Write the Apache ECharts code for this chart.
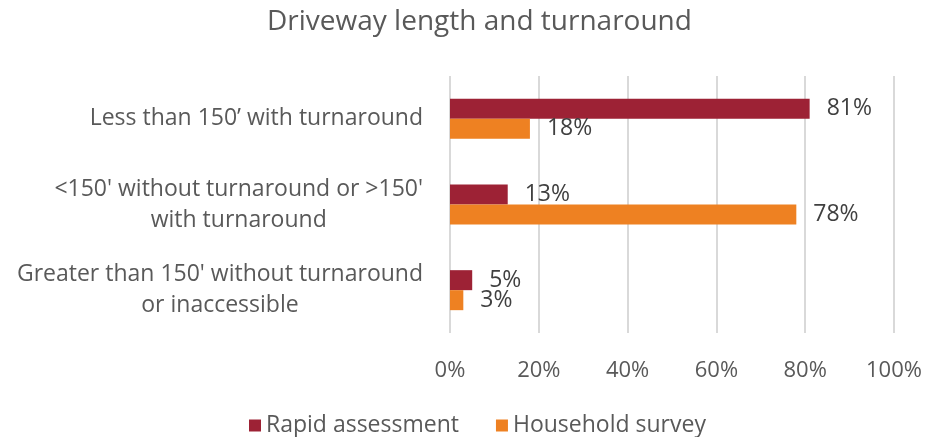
<!DOCTYPE html>
<html>
<head>
<meta charset="utf-8">
<script src="https://cdn.jsdelivr.net/npm/echarts@6/dist/echarts.min.js"></script>
<style>
html, body { margin: 0; padding: 0; background: #fff; }
#chart { width: 926px; height: 437px; }
</style>
</head>
<body>
<div id="chart"></div>
<script>
var categories = [
    "Less than 150\u2019 with turnaround",
    "<150' without turnaround or >150'\nwith turnaround",
    "Greater than 150' without turnaround\nor inaccessible"
];
var rapidAssessment = [81, 13, 5];
var householdSurvey = [18, 78, 3];
var xTicks = [0, 20, 40, 60, 80, 100];

var chart = echarts.init(document.getElementById("chart"));

var textColor = "#595959";
var font = "Open Sans";

var option = {
    animation: false,
    title: {
        text: "Driveway length and turnaround",
        left: 262,
        top: 3,
        textStyle: { color: textColor, fontFamily: font, fontWeight: "normal", fontSize: 28 }
    },
    legend: {
        bottom: -5,
        left: 244,
        itemWidth: 12,
        itemHeight: 12,
        itemGap: 37,
        icon: "rect",
        textStyle: { color: textColor, fontFamily: font, fontSize: 23 },
        data: ["Rapid assessment", "Household survey"]
    },
    grid: { left: 450, right: 32, top: 76, bottom: 104, containLabel: false },
    xAxis: {
        type: "value",
        min: 0,
        max: 100,
        interval: 20,
        axisLine: { show: false },
        axisTick: { show: false },
        splitLine: { lineStyle: { color: "#d9d9d9", width: 2 } },
        axisLabel: {
            color: textColor, fontFamily: font, fontSize: 22, margin: 27,
            formatter: function (v) { return xTicks.indexOf(v) >= 0 ? v + "%" : ""; }
        }
    },
    yAxis: {
        type: "category",
        inverse: true,
        data: categories,
        axisLine: { show: false },
        axisTick: { show: false },
        axisLabel: {
            margin: 27,
            align: "right",
            // wrapped lines are centred under each other, block sits at the right
            formatter: function (v) {
                return v.split("\n").map(function (s) { return "{c|" + s + "}"; }).join("\n");
            },
            rich: {
                c: { color: textColor, fontFamily: font, fontSize: 23, lineHeight: 31, align: "center" }
            }
        }
    },
    series: [
        {
            name: "Rapid assessment",
            type: "bar",
            data: rapidAssessment,
            barWidth: 20,
            barGap: "0%",
            itemStyle: { color: "#9d2235" },
            label: {
                show: true, position: "right", distance: 17,
                color: "#404040", fontFamily: font, fontSize: 23,
                formatter: "{c}%"
            }
        },
        {
            name: "Household survey",
            type: "bar",
            data: householdSurvey,
            barWidth: 20,
            itemStyle: { color: "#ee8122" },
            label: {
                show: true, position: "right", distance: 17,
                color: "#404040", fontFamily: font, fontSize: 23,
                formatter: "{c}%"
            }
        }
    ]
};

chart.setOption(option);
</script>
</body>
</html>
